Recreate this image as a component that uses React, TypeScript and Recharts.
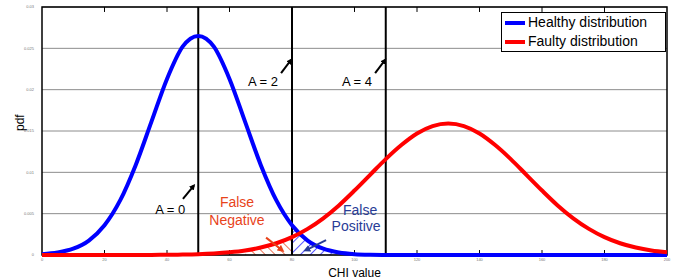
import {
  ComposedChart, Line, Area, XAxis, YAxis, CartesianGrid,
  ReferenceLine, ReferenceArea, ReferenceDot,
} from 'recharts'

// CHI value samples (every 5) and the two pdfs
const CHI = [
  0, 5, 10, 15, 20, 25, 30, 35, 40, 45, 50, 55, 60, 65, 70, 75, 80, 85, 90, 95, 100,
  105, 110, 115, 120, 125, 130, 135, 140, 145, 150, 155, 160, 165, 170, 175, 180, 185, 190, 195, 200,
]
const HEALTHY = [
  0.0001, 0.0003, 0.00076, 0.00175, 0.0036, 0.0066, 0.0109, 0.0161, 0.0213, 0.0252, 0.0265,
  0.0252, 0.0213, 0.0161, 0.0109, 0.0066, 0.0036, 0.00175, 0.00076, 0.0003, 0.0001,
  0.00003, 0.00001, 0, 0, 0, 0, 0, 0, 0, 0, 0, 0, 0, 0, 0, 0, 0, 0, 0, 0,
]
const FAULTY = [
  0, 0, 0, 0, 0.000001, 0.000002, 0.000005, 0.00001, 0.000024, 0.00005, 0.000095,
  0.00018, 0.00032, 0.00054, 0.0009, 0.00142, 0.00216, 0.00316, 0.00444, 0.006, 0.0078,
  0.0097, 0.0116, 0.0133, 0.0147, 0.0156, 0.0159, 0.0156, 0.0147, 0.0133, 0.0116,
  0.0097, 0.0078, 0.006, 0.00444, 0.00316, 0.00216, 0.00142, 0.0009, 0.00054, 0.00032,
]
const X_TICKS = [0, 20, 40, 60, 80, 100, 120, 140, 160, 180, 200]
const Y_TICKS = [0, 0.005, 0.01, 0.015, 0.02, 0.025, 0.03]
const THRESHOLDS = [50, 80, 110]
const FALSE_NEG = [65, 80]
const FALSE_POS = [80, 100]

const data = CHI.map((chi, i) => ({
  chi,
  healthy: HEALTHY[i],
  faulty: FAULTY[i],
  fn: chi >= FALSE_NEG[0] && chi <= FALSE_NEG[1] ? FAULTY[i] : null,
  fp: chi >= FALSE_POS[0] && chi <= FALSE_POS[1] ? HEALTHY[i] : null,
}))

const FONT = '"Liberation Sans", Arial, sans-serif'

const arrow = (color: string, id: string) => (p: any) => (
  <line x1={p.x1} y1={p.y1} x2={p.x2} y2={p.y2} stroke={color} strokeWidth={2} markerEnd={`url(#${id})`} />
)

const txt = (value: string, color: string, size = 14) => (p: any) => (
  <text x={p.cx} y={p.cy} textAnchor="middle" dominantBaseline="middle" fill={color} fontSize={size} fontFamily={FONT}>
    {value}
  </text>
)

export default function App() {
  return (
    <div style={{ position: 'absolute', left: 0, top: 0, width: 683, height: 279, background: '#fff', fontFamily: FONT }}>
      <ComposedChart width={683} height={279} data={data} margin={{ top: 7, right: 16, bottom: 0, left: 0 }}>
        <defs>
          <pattern id="hatchRed" width="7" height="7" patternUnits="userSpaceOnUse" patternTransform="rotate(-45)">
            <line x1="0" y1="0" x2="0" y2="7" stroke="#e8431a" strokeWidth="1.5" />
          </pattern>
          <pattern id="hatchBlue" width="7" height="7" patternUnits="userSpaceOnUse" patternTransform="rotate(45)">
            <line x1="0" y1="0" x2="0" y2="7" stroke="#1a1aff" strokeWidth="1.5" />
          </pattern>
          <marker id="arrBlack" markerWidth="6" markerHeight="6" refX="4" refY="3" orient="auto" markerUnits="userSpaceOnUse">
            <path d="M0,0 L6,3 L0,6 z" fill="#000" />
          </marker>
          <marker id="arrRed" markerWidth="7" markerHeight="7" refX="4" refY="3.5" orient="auto" markerUnits="userSpaceOnUse">
            <path d="M0,0 L7,3.5 L0,7 z" fill="#e8431a" />
          </marker>
          <marker id="arrBlue" markerWidth="7" markerHeight="7" refX="4" refY="3.5" orient="auto" markerUnits="userSpaceOnUse">
            <path d="M0,0 L7,3.5 L0,7 z" fill="#283c96" />
          </marker>
        </defs>
        <CartesianGrid vertical={false} stroke="#8c8c8c" strokeWidth={1} />
        <XAxis
          dataKey="chi" type="number" domain={[0, 200]} ticks={X_TICKS} height={24}
          tick={{ fontSize: 4, fill: '#777' }} tickLine={false} axisLine={false} tickSize={0} tickMargin={3}
          label={{ value: 'CHI value', position: 'insideBottom', offset: 2, fontSize: 12, fill: '#000', fontFamily: FONT }}
        />
        <YAxis
          type="number" domain={[0, 0.03]} ticks={Y_TICKS} width={42}
          tick={{ fontSize: 4, fill: '#777' }} tickLine={false} axisLine={false}
          label={{ value: 'pdf', angle: -90, position: 'insideLeft', offset: 20, fontSize: 12, fill: '#000', fontFamily: FONT }}
        />
        <Area dataKey="fn" type="monotone" stroke="none" fill="url(#hatchRed)" fillOpacity={1} isAnimationActive={false} connectNulls={false} />
        <Area dataKey="fp" type="monotone" stroke="none" fill="url(#hatchBlue)" fillOpacity={1} isAnimationActive={false} connectNulls={false} />
        {X_TICKS.slice(1, -1).map((t) => (
          <ReferenceLine key={`b${t}`} segment={[{ x: t, y: 0 }, { x: t, y: 0.0006 }]} stroke="#000" strokeWidth={1} />
        ))}
        {X_TICKS.slice(1, -1).map((t) => (
          <ReferenceLine key={`t${t}`} segment={[{ x: t, y: 0.03 }, { x: t, y: 0.0294 }]} stroke="#000" strokeWidth={1} />
        ))}
        {THRESHOLDS.map((t) => (
          <ReferenceLine key={t} x={t} stroke="#000" strokeWidth={2} />
        ))}
        <Line dataKey="healthy" type="monotone" stroke="#0000ff" strokeWidth={4} dot={false} isAnimationActive={false} />
        <Line dataKey="faulty" type="monotone" stroke="#ff0000" strokeWidth={4} dot={false} isAnimationActive={false} />
        <ReferenceArea x1={0} x2={200} y1={0} y2={0.03} fill="none" stroke="#000" strokeWidth={1.5} />

        <ReferenceLine segment={[{ x: 45.1, y: 0.0068 }, { x: 48.6, y: 0.0084 }]} shape={arrow('#000', 'arrBlack')} />
        <ReferenceLine segment={[{ x: 76.5, y: 0.0220 }, { x: 79.7, y: 0.0236 }]} shape={arrow('#000', 'arrBlack')} />
        <ReferenceLine segment={[{ x: 106.6, y: 0.0220 }, { x: 109.8, y: 0.0236 }]} shape={arrow('#000', 'arrBlack')} />
        <ReferenceLine segment={[{ x: 71.7, y: 0.0021 }, { x: 76.8, y: 0.0006 }]} shape={arrow('#e8431a', 'arrRed')} />
        <ReferenceLine segment={[{ x: 90.9, y: 0.0018 }, { x: 84.5, y: 0.0006 }]} shape={arrow('#283c96', 'arrBlue')} />

        <ReferenceDot x={41} y={0.0054} r={0} shape={txt('A = 0', '#000', 13)} />
        <ReferenceDot x={70.7} y={0.0208} r={0} shape={txt('A = 2', '#000', 13)} />
        <ReferenceDot x={100.8} y={0.0208} r={0} shape={txt('A = 4', '#000', 13)} />
        <ReferenceDot x={62.4} y={0.0063} r={0} shape={txt('False', '#e8431a')} />
        <ReferenceDot x={62.4} y={0.0041} r={0} shape={txt('Negative', '#e8431a')} />
        <ReferenceDot x={101.8} y={0.0053} r={0} shape={txt('False', '#283c96')} />
        <ReferenceDot x={100.5} y={0.0033} r={0} shape={txt('Positive', '#283c96')} />
      </ComposedChart>
      <div
        style={{
          position: 'absolute', left: 501, top: 12, width: 165, height: 40, boxSizing: 'border-box',
          border: '1px solid #000', background: '#fff', fontSize: 14, lineHeight: '19px', padding: '0 3px',
        }}
      >
        {[['Healthy distribution', '#0000ff'], ['Faulty distribution', '#ff0000']].map(([name, color]) => (
          <div key={name} style={{ display: 'flex', alignItems: 'center', gap: 3 }}>
            <span style={{ width: 20, height: 4, background: color, display: 'inline-block' }} />
            <span>{name}</span>
          </div>
        ))}
      </div>
    </div>
  )
}
